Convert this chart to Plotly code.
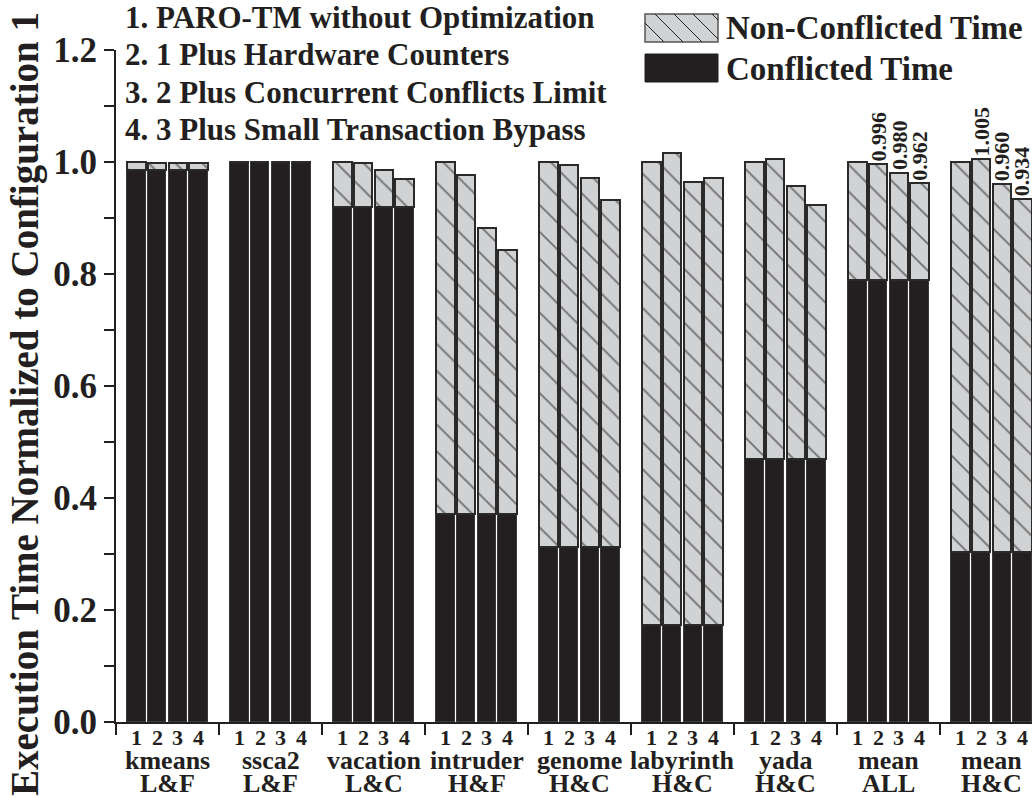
import plotly.graph_objects as go

# ---------------- data ----------------
bench_names = ["kmeans", "ssca2", "vacation", "intruder", "genome",
               "labyrinth", "yada", "mean", "mean"]
bench_classes = ["L&F", "L&F", "L&C", "H&F", "H&C", "H&C", "H&C", "ALL", "H&C"]
config_labels = ["1", "2", "3", "4"]

# total normalized execution time per benchmark, configs 1..4
total_time = [
    [1.000, 0.999, 0.999, 0.999],   # kmeans
    [1.000, 1.000, 1.000, 1.000],   # ssca2
    [1.000, 0.998, 0.986, 0.970],   # vacation
    [1.000, 0.977, 0.883, 0.843],   # intruder
    [1.000, 0.995, 0.971, 0.932],   # genome
    [1.000, 1.016, 0.964, 0.971],   # labyrinth
    [1.000, 1.005, 0.957, 0.923],   # yada
    [1.000, 0.996, 0.980, 0.962],   # mean ALL
    [1.000, 1.005, 0.960, 0.934],   # mean H&C
]
# conflicted part of the time per benchmark, configs 1..4
conflicted_time = [
    [0.985, 0.985, 0.985, 0.985],
    [1.000, 1.000, 1.000, 1.000],
    [0.920, 0.920, 0.920, 0.920],
    [0.371, 0.371, 0.371, 0.371],
    [0.313, 0.313, 0.313, 0.313],
    [0.173, 0.173, 0.173, 0.173],
    [0.470, 0.470, 0.470, 0.470],
    [0.790, 0.790, 0.790, 0.790],
    [0.304, 0.304, 0.304, 0.304],
]
# value labels shown above the mean bars (group index, config index, text)
value_labels = [
    (7, 1, "0.996"), (7, 2, "0.980"), (7, 3, "0.962"),
    (8, 1, "1.005"), (8, 2, "0.960"), (8, 3, "0.934"),
]
config_descriptions = [
    "1. PARO-TM without Optimization",
    "2. 1 Plus Hardware Counters",
    "3. 2 Plus Concurrent Conflicts Limit",
    "4. 3 Plus Small Transaction Bypass",
]
legend_names = ["Non-Conflicted Time", "Conflicted Time"]
y_title = "Execution Time Normalized to Configuration 1"

# ---------------- layout constants ----------------
W, H = 1036, 798
ML, MR, MT, MB = 116, 4, 50, 76
PW, PH = W - ML - MR, H - MT - MB
PITCH = 103.0                       # px per group
XMIN = -0.5
XMAX = XMIN + PW / PITCH
STEP = 0.2
BARW = 0.18
FONT = "Liberation Serif"
DARK = "#231f20"
GRAY = "#d1d2d4"
OUTL = "#2a2a2a"


def px2paper_x(px):
    return (px - ML) / PW


def px2paper_y(py):
    return 1 - (py - MT) / PH


xs, conf_vals, nonconf_vals, cfg_text = [], [], [], []
for g in range(len(bench_names)):
    for k in range(len(config_labels)):
        xs.append(g + (k - 1.5) * STEP)
        conf_vals.append(conflicted_time[g][k])
        nonconf_vals.append(max(total_time[g][k] - conflicted_time[g][k], 0))
        cfg_text.append(config_labels[k])

fig = go.Figure()
fig.add_trace(go.Bar(
    x=xs, y=conf_vals, width=BARW, name=legend_names[1],
    marker=dict(color=DARK, line=dict(color="#3a3a3a", width=1.5)),
    showlegend=False,
))
fig.add_trace(go.Bar(
    x=xs, y=nonconf_vals, width=BARW, name=legend_names[0],
    marker=dict(color=GRAY, line=dict(color=OUTL, width=2),
                pattern=dict(shape="\\", fgcolor="#111111", bgcolor=GRAY,
                             size=19, solidity=0.1)),
    showlegend=False,
))

annotations = []
# value labels above mean bars
for g, k, txt in value_labels:
    annotations.append(dict(
        x=g + (k - 1.5) * STEP, y=total_time[g][k], xref="x", yref="y",
        text=txt, textangle=-90, showarrow=False, xanchor="center",
        yanchor="bottom", yshift=1,
        font=dict(family=FONT, size=22, color=DARK, weight="bold"),
    ))
# configuration numbers under each bar
for xv, t in zip(xs, cfg_text):
    annotations.append(dict(
        x=xv, y=0, xref="x", yref="y", text=t, showarrow=False,
        xanchor="center", yanchor="middle", yshift=-15,
        font=dict(family=FONT, size=22, color=DARK, weight="bold"),
    ))
# benchmark names and classes
for g, (nm, cl) in enumerate(zip(bench_names, bench_classes)):
    annotations.append(dict(
        x=g, y=0, xref="x", yref="y", text=nm, showarrow=False,
        xanchor="center", yanchor="middle", yshift=-38,
        font=dict(family=FONT, size=26, color=DARK, weight="bold"),
    ))
    annotations.append(dict(
        x=g, y=0, xref="x", yref="y", text=cl, showarrow=False,
        xanchor="center", yanchor="middle", yshift=-61,
        font=dict(family=FONT, size=26, color=DARK, weight="bold"),
    ))
# configuration description list
for i, txt in enumerate(config_descriptions):
    annotations.append(dict(
        x=px2paper_x(123), y=px2paper_y(18 + 37 * i), xref="paper", yref="paper",
        text=txt, showarrow=False, xanchor="left", yanchor="middle",
        font=dict(family=FONT, size=31, color=DARK, weight="bold"),
    ))
# legend texts
for i, txt in enumerate(legend_names):
    annotations.append(dict(
        x=px2paper_x(724), y=px2paper_y(28 + 41 * i), xref="paper", yref="paper",
        text=txt, showarrow=False, xanchor="left", yanchor="middle",
        font=dict(family=FONT, size=33, color=DARK, weight="bold"),
    ))
# y-axis title
annotations.append(dict(
    x=px2paper_x(25), y=px2paper_y(404), xref="paper", yref="paper",
    text=y_title, textangle=-90, showarrow=False,
    xanchor="center", yanchor="middle",
    font=dict(family=FONT, size=39, color=DARK, weight="bold"),
))

# legend boxes (shapes)
shapes = []
bx0, bx1 = 645, 718
hy0, hy1 = 14, 42
shapes.append(dict(type="rect", xref="paper", yref="paper",
                   x0=px2paper_x(bx0), x1=px2paper_x(bx1),
                   y0=px2paper_y(hy1), y1=px2paper_y(hy0),
                   fillcolor=GRAY, line=dict(color="#555555", width=1.5)))
hgt = hy1 - hy0
path = ""
start = bx0 - hgt
while start < bx1:
    xa, ya = start, hy0
    xb, yb = start + hgt, hy1
    if xa < bx0:
        ya = hy0 + (bx0 - xa)
        xa = bx0
    if xb > bx1:
        yb = hy1 - (xb - bx1)
        xb = bx1
    if xb > xa:
        path += "M {:.5f},{:.5f} L {:.5f},{:.5f} ".format(
            px2paper_x(xa), px2paper_y(ya), px2paper_x(xb), px2paper_y(yb))
    start += 19
shapes.append(dict(type="path", xref="paper", yref="paper", path=path,
                   line=dict(color="#222222", width=1)))
shapes.append(dict(type="rect", xref="paper", yref="paper",
                   x0=px2paper_x(bx0), x1=px2paper_x(bx1),
                   y0=px2paper_y(82), y1=px2paper_y(54),
                   fillcolor=DARK, line=dict(color=DARK, width=1)))

fig.update_layout(
    width=W, height=H,
    margin=dict(l=ML, r=MR, t=MT, b=MB, autoexpand=False),
    barmode="stack", bargap=0,
    plot_bgcolor="white", paper_bgcolor="white",
    font=dict(family=FONT, color=DARK),
    annotations=annotations, shapes=shapes,
    showlegend=False,
)
fig.update_xaxes(
    range=[XMIN, XMAX], showgrid=False, zeroline=False,
    showline=True, linewidth=2, linecolor=DARK,
    tickmode="array", tickvals=[g - 0.5 for g in range(len(bench_names) + 1)],
    ticks="outside", ticklen=11, tickwidth=2, tickcolor=DARK,
    showticklabels=False,
)
fig.update_yaxes(
    range=[0, 1.2], showgrid=False, zeroline=False,
    showline=True, linewidth=2, linecolor=DARK,
    tickmode="linear", tick0=0, dtick=0.2, tickformat=".1f",
    ticks="outside", ticklen=10, tickwidth=2, tickcolor=DARK,
    tickfont=dict(family=FONT, size=35, color=DARK, weight="bold"),
    minor=dict(dtick=0.1, ticks="outside", ticklen=10, tickwidth=2,
               tickcolor=DARK, showgrid=False),
)

fig.write_html(
    "out.html",
    config={"displayModeBar": False},
    post_script="document.body.style.margin='0';"
                "document.body.style.overflow='hidden';",
)
